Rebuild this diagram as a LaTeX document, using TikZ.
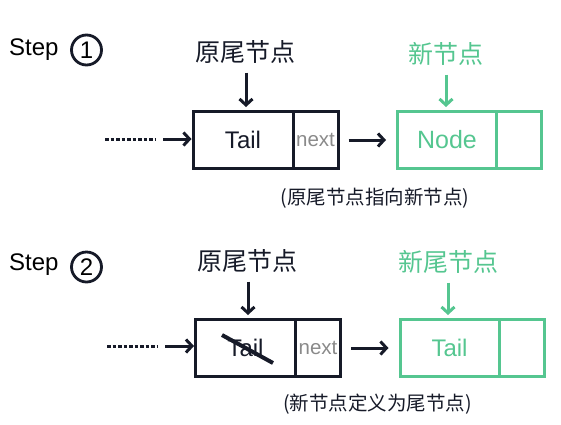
\documentclass[tikz,border=0pt]{standalone}
\usepackage{fontspec}
\setmainfont{Liberation Sans}
\newfontfamily\cjk{Noto Sans CJK SC}
\usetikzlibrary{arrows.meta}
\definecolor{ink}{HTML}{161A28}
\definecolor{grn}{HTML}{55C690}
\definecolor{gry}{HTML}{8A8A8A}
\tikzset{
  cell/.style={draw=ink, line width=3pt, minimum height=57pt, inner sep=0pt},
  gcell/.style={draw=grn, line width=3pt, minimum height=57pt, inner sep=0pt},
  arr/.style={draw=ink, line width=3pt, -{Straight Barb[length=6pt,width=13pt]}},
  garr/.style={draw=grn, line width=3pt, -{Straight Barb[length=6pt,width=13pt]}},
  dots/.style={draw=ink, line width=3pt, dash pattern=on 3.5pt off 2pt},
  head/.style={font=\cjk\fontsize{25}{28}\selectfont, inner sep=0pt},
  capt/.style={font=\cjk\fontsize{19.5}{22}\selectfont, inner sep=0pt},
  steptxt/.style={font=\fontsize{24}{28}\selectfont, inner sep=0pt, anchor=west},
  num/.style={draw=ink, circle, line width=2.8pt, minimum size=30pt, inner sep=0pt, font=\fontsize{24}{28}\selectfont},
}
\begin{document}
\begin{tikzpicture}[x=1pt,y=-1pt]
\useasboundingbox (0,0) rectangle (561,424);
% ---------- Step 1 ----------
\node[steptxt] (s1) at (9,50) {Step};
\node[num] (c1) at (86.5,50) {1};
\node[head, text=ink] (h1) at (245,52) {原尾节点};
\node[head, text=grn] (g1) at (446,54) {新节点};
\node[cell, minimum width=100pt, font=\fontsize{24}{26}\selectfont, text=ink] (tail1) at (243,140) {Tail};
\node[cell, minimum width=45pt, font=\fontsize{20.5}{22}\selectfont, text=gry] (next1) at (315.5,140) {next};
\node[gcell, minimum width=99pt, font=\fontsize{25}{26}\selectfont, text=grn] (node1) at (447,140) {Node};
\node[gcell, minimum width=45pt] (e1) at (519,140) {};
\coordinate (d1a) at (105,139);
\coordinate (d1b) at (155,139);
\draw[dots] (d1a) -- (d1b);
\draw[arr, shorten <=8pt] (d1b) -- (tail1.west |- d1b);
\draw[arr, shorten <=9pt, shorten >=10pt] (next1.east) -- (node1.west);
\draw[arr, shorten <=9pt, shorten >=3pt] (h1.south -| 246,0) -- (246,0 |- tail1.north);
\draw[garr, shorten <=9pt, shorten >=3pt] (g1.south) -- (g1.south |- node1.north);
\node[capt, text=ink] (cap1) at (375,198) {(原尾节点指向新节点)};
% ---------- Step 2 ----------
\node[steptxt] (s2) at (9,265) {Step};
\node[num] (c2) at (86.5,267) {2};
\node[head, text=ink] (h2) at (247,261) {原尾节点};
\node[head, text=grn] (g2) at (448,262) {新尾节点};
\node[cell, minimum width=100pt, font=\fontsize{24}{26}\selectfont, text=ink] (tail2) at (245.5,348) {Tail};
\node[cell, minimum width=45pt, font=\fontsize{20.5}{22}\selectfont, text=gry] (next2) at (318,348) {next};
\node[gcell, minimum width=99pt, font=\fontsize{24}{26}\selectfont, text=grn] (node2) at (449.5,348) {Tail};
\node[gcell, minimum width=45pt] (e2) at (521.5,348) {};
\draw[ink, line width=4pt] ([shift={(-23.5,-13)}]tail2.center) -- ([shift={(27.5,15)}]tail2.center);
\coordinate (d2a) at (107,346);
\coordinate (d2b) at (157,346);
\draw[dots] (d2a) -- (d2b);
\draw[arr, shorten <=8pt] (d2b) -- (tail2.west |- d2b);
\draw[arr, shorten <=9pt, shorten >=10pt] (next2.east) -- (node2.west);
\draw[arr, shorten <=9pt, shorten >=3pt] (h2.south -| 248,0) -- (248,0 |- tail2.north);
\draw[garr, shorten <=9pt, shorten >=3pt] (g2.south) -- (g2.south |- node2.north);
\node[capt, text=ink] (cap2) at (377.5,404) {(新节点定义为尾节点)};
\end{tikzpicture}
\end{document}
